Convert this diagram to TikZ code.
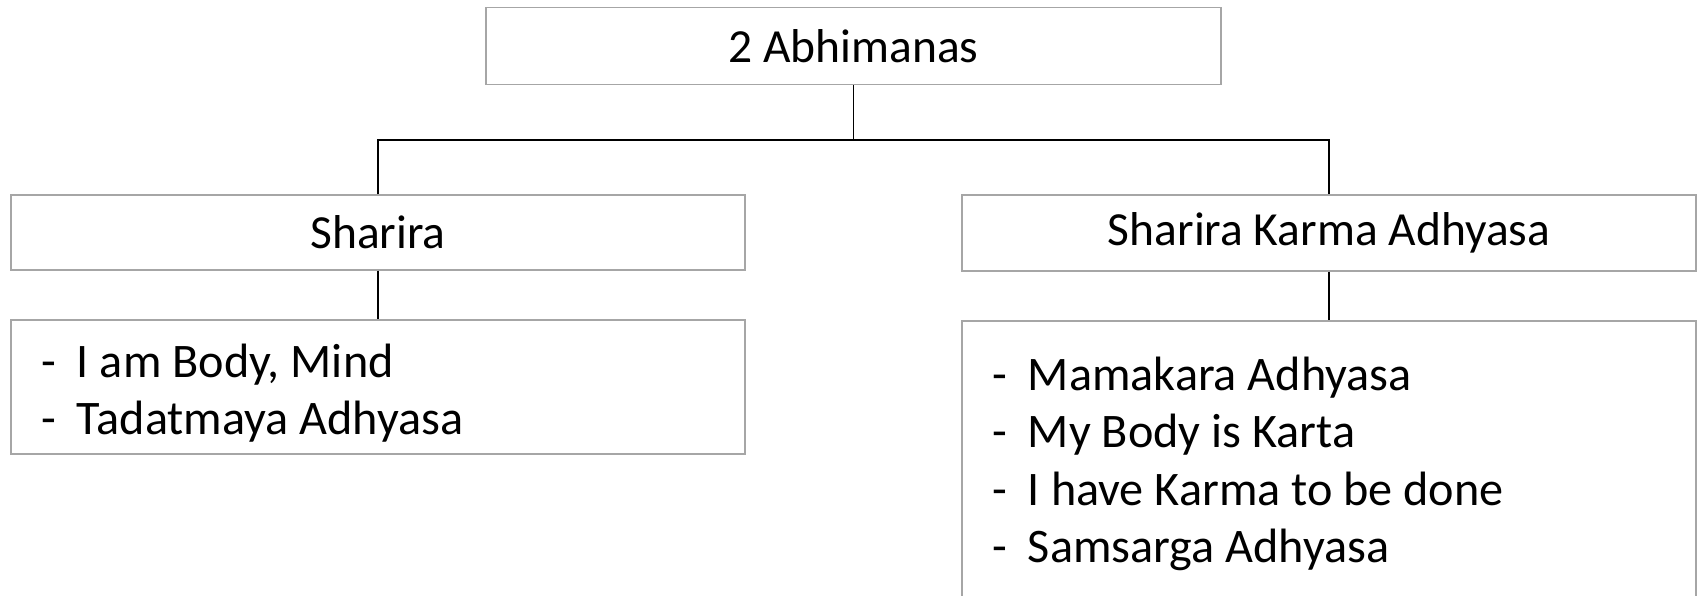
\documentclass[tikz,border=0pt]{standalone}
\usepackage{fontspec}
\setmainfont{Carlito}
\newcommand{\tightspaces}{\spaceskip=0.226em\relax\xspaceskip=0.226em\relax}
\newcommand{\itm}{\makebox[36pt][l]{-}}
\begin{document}
\begin{tikzpicture}[x=1pt,y=-1pt,
  box/.style={draw=black!35, line width=1.1pt, fill=white, inner sep=0pt},
  head/.style={box, font=\fontsize{47.5}{56}\selectfont\tightspaces},
  listbox/.style={box},
  listtext/.style={align=left, text width=674pt, inner sep=0pt, font=\fontsize{48.2}{57.5}\selectfont},
  link/.style={draw=black, line width=1.3pt}]
\useasboundingbox (0,0) rectangle (1700,596);
\fill[white] (0,0) rectangle (1700,596);

% top level
\node[head, minimum width=735pt, minimum height=77pt] (top) at (853.5,46) {2 Abhimanas};

% second level
\node[head, minimum width=734pt, minimum height=75pt] (sh) at (378,232.5) {Sharira};
\node[head, minimum width=734pt, minimum height=76pt] (ska) at (1329,233) {Sharira Karma Adhyasa};

% detail lists
\node[listbox, minimum width=734pt, minimum height=134pt] (shl) at (378,387) {};
\node[listtext] (shlt) at (378,393)
  {\tightspaces\itm I am Body, Mind\\ \itm Tadatmaya Adhyasa};
\node[listbox, minimum width=734pt, minimum height=280pt] (skal) at (1329,461) {};
\node[listtext] (skalt) at (1329,464)
  {\tightspaces\itm Mamakara Adhyasa\\ \itm My Body is Karta\\
   \itm I have Karma to be done\\ \itm Samsarga Adhyasa};

% connectors
\coordinate (bus) at (853.5,140);
\draw[link] (top.south) -- (bus);
\draw[link] (sh.north) |- (bus) -| (ska.north);
\draw[link] (sh.south) -- (shl.north);
\draw[link] (ska.south) -- (skal.north);
\end{tikzpicture}
\end{document}
